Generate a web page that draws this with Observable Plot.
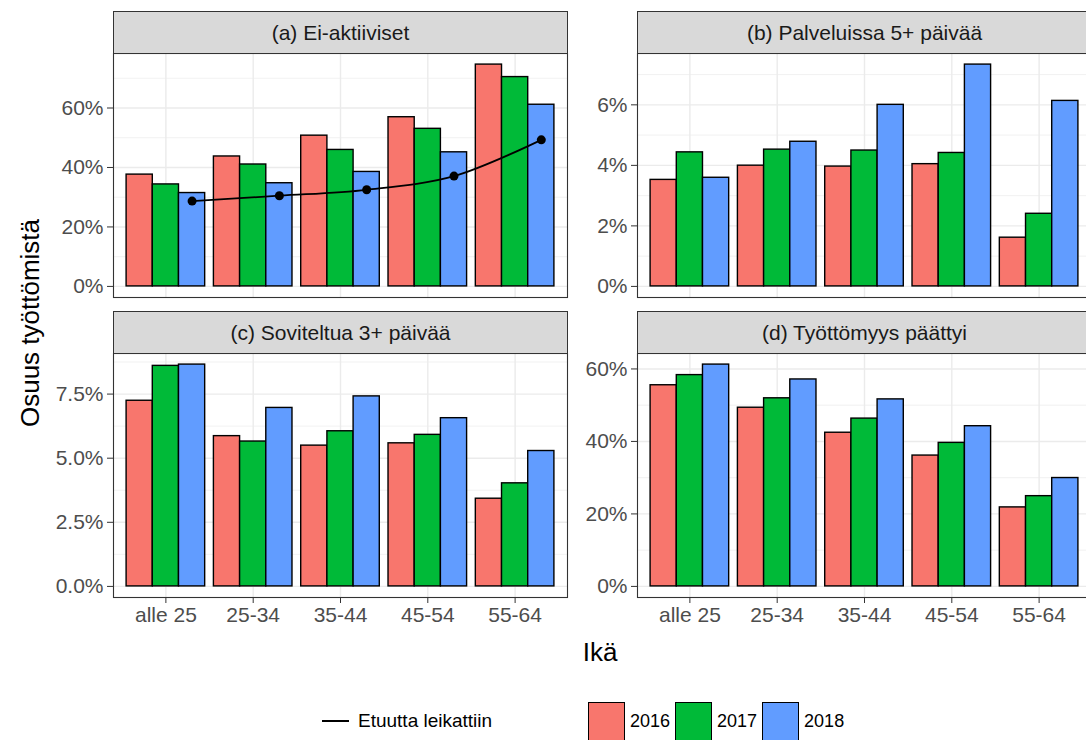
<!DOCTYPE html>
<html><head><meta charset="utf-8">
<script src="https://cdn.jsdelivr.net/npm/d3@7"></script>
<script src="https://cdn.jsdelivr.net/npm/@observablehq/plot@0.6"></script>
<style>
html,body{margin:0;padding:0;background:#fff;overflow:hidden;}
#root{position:relative;width:1100px;height:740px;font-family:"Liberation Sans",Arial,sans-serif;}
.strip{position:absolute;box-sizing:border-box;background:#D9D9D9;border:1px solid #333;color:#1A1A1A;font-size:21px;display:flex;align-items:center;justify-content:center;}
.abs{position:absolute;white-space:nowrap;}
.key{position:absolute;box-sizing:border-box;border:1.5px solid #000;width:37px;height:40px;}
</style></head><body><div id="root"></div>
<script>
const ages = ["alle 25", "25-34", "35-44", "45-54", "55-64"];
const years = ["2016", "2017", "2018"];
const colors = ["#F8766D", "#00BA38", "#619CFF"];
const titles = ["(a) Ei-aktiiviset", "(b) Palveluissa 5+ päivää", "(c) Soviteltua 3+ päivää", "(d) Työttömyys päättyi"];

// (a) Ei-aktiiviset, %
const a2016 = [37.6, 43.7, 50.7, 56.9, 74.6];
const a2017 = [34.3, 41.0, 45.9, 53.0, 70.4];
const a2018 = [31.4, 34.7, 38.5, 45.1, 61.1];
const aLeikattiin = [28.7, 30.5, 32.5, 37.1, 49.3];
// (b) Palveluissa 5+ päivää, %
const b2016 = [3.52, 3.99, 3.96, 4.04, 1.61];
const b2017 = [4.43, 4.52, 4.49, 4.41, 2.40];
const b2018 = [3.59, 4.78, 6.00, 7.33, 6.13];
// (c) Soviteltua 3+ päivää, %
const c2016 = [7.24, 5.86, 5.49, 5.58, 3.42];
const c2017 = [8.60, 5.65, 6.05, 5.91, 4.02];
const c2018 = [8.65, 6.96, 7.41, 6.56, 5.28];
// (d) Työttömyys päättyi, %
const d2016 = [55.5, 49.3, 42.4, 36.1, 21.8];
const d2017 = [58.3, 51.9, 46.3, 39.6, 24.9];
const d2018 = [61.2, 57.1, 51.6, 44.2, 29.9];

const aTicks = [0, 20, 40, 60];
const bTicks = [0, 2, 4, 6];
const cTicks = [0, 2.5, 5, 7.5];
const dTicks = [0, 20, 40, 60];
const pctFmt = d => d + "%";
const pct1Fmt = d => d.toFixed(1) + "%";

const legendLineLabel = "Etuutta leikattiin";
const xTitle = "Ikä";
const yTitle = "Osuus työttömistä";

const root = document.getElementById("root");
const W = 454, H = 244, ML = 62;

function panel({series, line, ticks, fmt, showX, left, top, title}) {
  const rows = [];
  series.forEach((vals, j) => vals.forEach((v, i) => rows.push({age: i + 1, year: years[j], j, value: v})));
  const max = d3.max(rows, d => d.value);
  const lo = -0.05 * max, hi = 1.05 * max;
  const step = ticks[1] - ticks[0];
  const minor = [];
  for (let t = ticks[0] - step / 2; t <= hi; t += step) if (t >= lo) minor.push(t);
  const MB = showX ? 45 : 1;
  const marks = [
    Plot.gridY(minor, {stroke: "#EBEBEB", strokeOpacity: 1, strokeWidth: 0.7}),
    Plot.gridY(ticks, {stroke: "#EBEBEB", strokeOpacity: 1, strokeWidth: 1.4}),
    Plot.gridX([1, 2, 3, 4, 5], {stroke: "#EBEBEB", strokeOpacity: 1, strokeWidth: 1.4}),
    Plot.rect(rows, {
      x1: d => d.age + (d.j - 1) * 0.3 - 0.15,
      x2: d => d.age + (d.j - 1) * 0.3 + 0.15,
      y1: d => 0, y2: "value", fill: "year", stroke: "#000", strokeWidth: 1.4
    })
  ];
  if (line) {
    const lr = line.map((v, i) => ({age: i + 1, value: v}));
    marks.push(Plot.line(lr, {x: d => d.age + 0.3, y: "value", curve: "catmull-rom", stroke: "#000", strokeWidth: 1.8}));
    marks.push(Plot.dot(lr, {x: d => d.age + 0.3, y: "value", r: 4.5, fill: "#000", stroke: "none"}));
  }
  marks.push(Plot.frame({stroke: "#333", strokeWidth: 1.1}));
  marks.push(Plot.axisY(ticks, {tickFormat: fmt, tickSize: 6, tickPadding: 4, fontSize: 21, fill: "#4D4D4D", stroke: "#333", label: null}));
  if (showX) marks.push(Plot.axisX([1, 2, 3, 4, 5], {tickFormat: i => ages[i - 1], tickSize: 6, tickPadding: 4, fontSize: 21, fill: "#4D4D4D", stroke: "#333", label: null}));
  const svg = Plot.plot({
    width: ML + W + 1, height: 1 + H + MB,
    marginLeft: ML, marginRight: 1, marginTop: 1, marginBottom: MB,
    style: {background: "transparent", fontFamily: "'Liberation Sans', Arial, sans-serif", fontSize: "21px", overflow: "visible"},
    x: {type: "linear", domain: [0.4, 5.6], axis: null},
    y: {domain: [lo, hi], axis: null},
    color: {domain: years, range: colors},
    marks
  });
  svg.style.position = "absolute";
  svg.style.left = (left - ML) + "px";
  svg.style.top = (top - 1) + "px";
  root.appendChild(svg);
  const s = document.createElement("div");
  s.className = "strip";
  s.style.left = left + "px"; s.style.top = (top - 42) + "px";
  s.style.width = (W + 1) + "px"; s.style.height = "43px";
  s.textContent = title;
  root.appendChild(s);
}

panel({series: [a2016, a2017, a2018], line: aLeikattiin, ticks: aTicks, fmt: pctFmt, showX: false, left: 113, top: 53, title: titles[0]});
panel({series: [b2016, b2017, b2018], ticks: bTicks, fmt: pctFmt, showX: false, left: 637, top: 53, title: titles[1]});
panel({series: [c2016, c2017, c2018], ticks: cTicks, fmt: pct1Fmt, showX: true, left: 113, top: 353, title: titles[2]});
panel({series: [d2016, d2017, d2018], ticks: dTicks, fmt: pctFmt, showX: true, left: 637, top: 353, title: titles[3]});

function txt(t, css) {
  const e = document.createElement("div");
  e.className = "abs"; e.textContent = t;
  Object.assign(e.style, css);
  root.appendChild(e);
  return e;
}
// axis titles
txt(xTitle, {left: "600px", top: "652px", fontSize: "26px", color: "#000", transform: "translate(-50%,-50%)"});
txt(yTitle, {left: "30px", top: "323px", fontSize: "26px", color: "#000", transform: "translate(-50%,-50%) rotate(-90deg)"});

// legend
const ln = document.createElement("div");
Object.assign(ln.style, {position: "absolute", left: "322px", top: "720px", width: "27px", height: "0", borderTop: "2px solid #000"});
root.appendChild(ln);
txt(legendLineLabel, {left: "358px", top: "721px", fontSize: "19px", color: "#000", transform: "translateY(-50%)"});
let kx = 588;
years.forEach((y, j) => {
  const k = document.createElement("div");
  k.className = "key";
  Object.assign(k.style, {left: kx + "px", top: "702px", background: colors[j]});
  root.appendChild(k);
  const t = txt(y, {left: (kx + 42) + "px", top: "721px", fontSize: "18px", color: "#000", transform: "translateY(-50%)"});
  kx = kx + 42 + t.getBoundingClientRect().width + 5;
});
</script>
</body></html>
